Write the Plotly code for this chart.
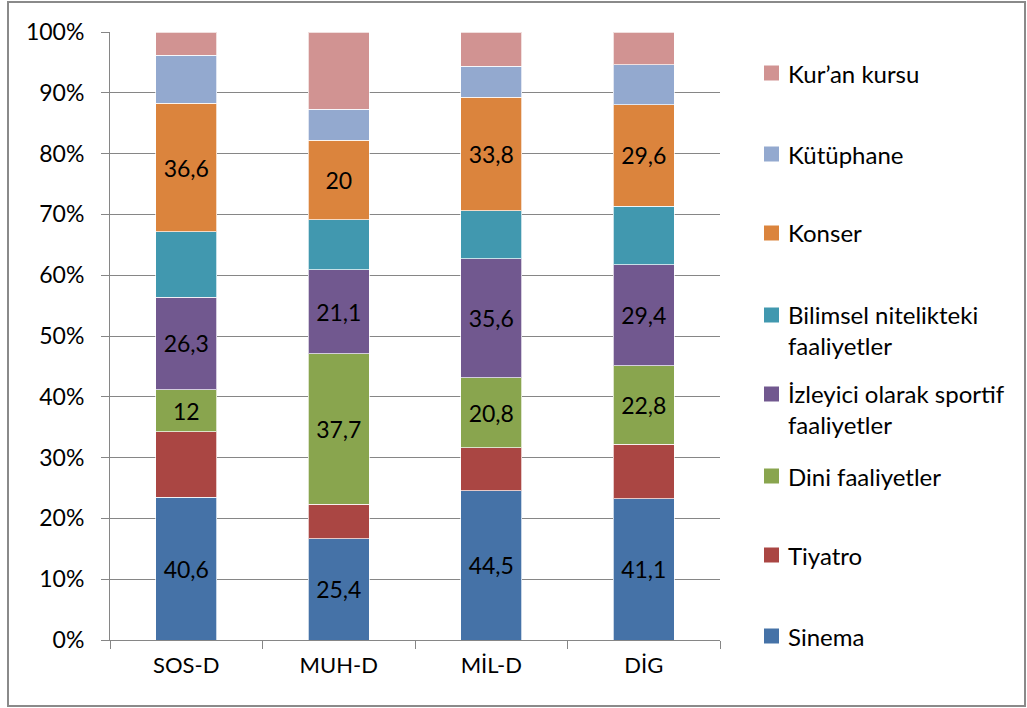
import plotly.graph_objects as go

categories = ["SOS-D", "MUH-D", "MİL-D", "DİG"]

sinema = [40.6, 25.4, 44.5, 41.1]
tiyatro = [18.5, 8.7, 12.9, 15.9]
dini = [12, 37.7, 20.8, 22.8]
izleyici = [26.3, 21.1, 35.6, 29.4]
bilimsel = [18.5, 12.5, 14.3, 17.0]
konser = [36.6, 20, 33.8, 29.6]
kutuphane = [13.6, 7.7, 9.3, 11.5]
kuran = [6.6, 19.4, 10.2, 9.6]

# (name, values, colour, value labels shown?)
series = [
    ("Sinema", sinema, "#4572A7", True),
    ("Tiyatro", tiyatro, "#AA4643", False),
    ("Dini faaliyetler", dini, "#89A54E", True),
    ("İzleyici olarak sportif faaliyetler", izleyici, "#71588F", True),
    ("Bilimsel nitelikteki faaliyetler", bilimsel, "#4198AF", False),
    ("Konser", konser, "#DB843D", True),
    ("Kütüphane", kutuphane, "#93A9CF", False),
    ("Kur’an kursu", kuran, "#D19392", False),
]

legend_labels = {
    "Bilimsel nitelikteki faaliyetler": "Bilimsel nitelikteki<br>faaliyetler",
    "İzleyici olarak sportif faaliyetler": "İzleyici olarak sportif<br>faaliyetler",
}

FONT = "Lato, Carlito, Calibri, sans-serif"
GRID = "#868686"

W, H = 1027, 708
PLOT_L, PLOT_R, PLOT_T, PLOT_B = 110, 720, 32, 640


def px_x(x):
    return (x - PLOT_L) / (PLOT_R - PLOT_L)


def px_y(y):
    return (PLOT_B - y) / (PLOT_B - PLOT_T)


def fmt(v):
    return f"{v:g}".replace(".", ",")


fig = go.Figure()

for name, vals, color, labelled in series:
    fig.add_trace(
        go.Bar(
            x=categories,
            y=vals,
            name=name,
            marker=dict(color=color, line=dict(color="rgba(255,255,255,0.7)", width=1)),
            text=[fmt(v) for v in vals] if labelled else None,
            textposition="inside" if labelled else "none",
            insidetextanchor="middle",
            textangle=0,
            textfont=dict(family=FONT, size=23, color="black"),
            showlegend=False,
        )
    )

# legend drawn by hand so the entries are evenly spaced like the original
legend_y = [636, 555, 476, 394, 315, 233, 154, 73]
shapes = []
annotations = []
for (name, vals, color, labelled), yc in zip(series, legend_y):
    shapes.append(
        dict(
            type="rect", xref="paper", yref="paper",
            x0=px_x(764), x1=px_x(779), y0=px_y(yc + 7.5), y1=px_y(yc - 7.5),
            fillcolor=color, line=dict(width=0),
        )
    )
    label = legend_labels.get(name, name)
    shift = 15 if "<br>" in label else 0
    annotations.append(
        dict(
            text=label, xref="paper", yref="paper",
            x=px_x(786), y=px_y(yc + shift),
            xanchor="left", yanchor="middle", align="left",
            showarrow=False,
            font=dict(family=FONT, size=24, color="black"),
        )
    )

# chart border
shapes.append(
    dict(
        type="rect", xref="paper", yref="paper",
        x0=px_x(8), x1=px_x(1025), y0=px_y(706), y1=px_y(2),
        line=dict(color="#8a8a8a", width=2), fillcolor="rgba(0,0,0,0)",
    )
)

fig.update_layout(
    width=W,
    height=H,
    barmode="stack",
    barnorm="percent",
    bargap=0.6,
    margin=dict(l=PLOT_L, r=W - PLOT_R, t=PLOT_T, b=H - PLOT_B),
    paper_bgcolor="white",
    plot_bgcolor="white",
    font=dict(family=FONT, size=23, color="black"),
    shapes=shapes,
    annotations=annotations,
    xaxis=dict(
        showline=True, linecolor=GRID, linewidth=1,
        ticks="outside", tickson="boundaries", ticklen=8, tickcolor=GRID,
        showgrid=False, ticklabelstandoff=6,
        tickfont=dict(family=FONT, size=22, color="black"),
    ),
    yaxis=dict(
        range=[0, 100], dtick=10, ticksuffix="%",
        showline=True, linecolor=GRID, linewidth=1,
        ticks="outside", ticklen=8, tickcolor=GRID,
        showgrid=True, gridcolor=GRID, gridwidth=1,
        zeroline=False, ticklabelstandoff=12,
    ),
)

# page body has a default margin; drop it so the figure sits at the window corner
fig.write_html(
    "out.html",
    config={"displayModeBar": False},
    post_script="document.body.style.margin='0';",
)
